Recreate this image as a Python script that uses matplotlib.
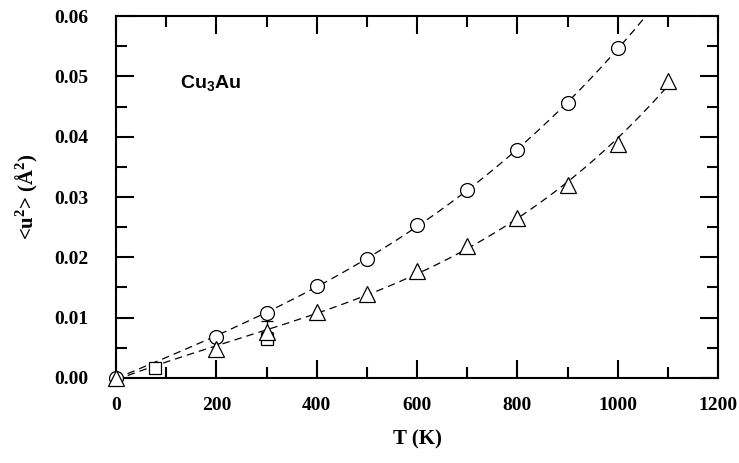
import numpy as np
import matplotlib
matplotlib.use('Agg')
import matplotlib.pyplot as plt
from matplotlib.ticker import MultipleLocator

# circles
t_circ = [0, 200, 300, 400, 500, 600, 700, 800, 900, 1000]
u_circ = [0.0, 0.0068, 0.0108, 0.0153, 0.0198, 0.0253, 0.0311, 0.0378, 0.0455, 0.0547]

# triangles
t_tri = [0, 200, 300, 400, 500, 600, 700, 800, 900, 1000, 1100]
u_tri = [0.0, 0.0048, 0.0076, 0.0109, 0.0139, 0.0177, 0.0219, 0.0265, 0.0320, 0.0388, 0.0492]

# squares (with upper error)
t_sq = [77, 300]
u_sq = [0.0016, 0.0065]
err_sq = [0.0008, 0.0]

# error bar on the 300 K triangle
t_tri_err = [300]
u_tri_err = [0.0076]
err_tri = [0.0019]

serif = 'Liberation Serif'
plt.rcParams['mathtext.fontset'] = 'custom'
plt.rcParams['mathtext.rm'] = serif
plt.rcParams['mathtext.bf'] = serif + ':bold'
plt.rcParams['mathtext.sf'] = 'Liberation Sans:bold'

fig = plt.figure(figsize=(7.39, 4.63), dpi=100)
ax = fig.add_axes([0.157, 0.1836, 0.8146, 0.7818])

# dashed fit curves
p_c = np.polyfit(t_circ, u_circ, 3)
tc = np.linspace(0, 1060, 200)
ax.plot(tc, np.polyval(p_c, tc), '--', color='black', lw=0.9, dashes=(6, 4), zorder=1)
p_t = np.polyfit(t_tri, u_tri, 3)
tt = np.linspace(0, 1100, 200)
ax.plot(tt, np.polyval(p_t, tt), '--', color='black', lw=0.9, dashes=(6, 4), zorder=1)

ax.errorbar(t_sq, u_sq, yerr=[[0, 0], err_sq], fmt='none', ecolor='black', elinewidth=0.9,
            capsize=4, capthick=0.9, zorder=2)
ax.errorbar(t_tri_err, u_tri_err, yerr=[[0], err_tri], fmt='none', ecolor='black', elinewidth=0.9,
            capsize=4, capthick=0.9, zorder=2)

ax.plot(t_circ, u_circ, 'o', ms=10, mfc='white', mec='black', mew=0.9, zorder=3, clip_on=False)
ax.plot(t_sq, u_sq, 's', ms=8, mfc='white', mec='black', mew=0.9, zorder=3, clip_on=False)
ax.plot(t_tri, u_tri, '^', ms=11, mfc='white', mec='black', mew=0.9, zorder=4, clip_on=False)

ax.set_xlim(0, 1200)
ax.set_ylim(0, 0.06)
ax.xaxis.set_major_locator(MultipleLocator(200))
ax.xaxis.set_minor_locator(MultipleLocator(100))
ax.yaxis.set_major_locator(MultipleLocator(0.01))
ax.yaxis.set_minor_locator(MultipleLocator(0.005))
ax.yaxis.set_major_formatter(plt.FuncFormatter(lambda v, p: '%.2f' % v))

ax.tick_params(which='both', direction='in', top=True, right=True, width=1.5)
ax.tick_params(which='major', length=13)
ax.tick_params(which='minor', length=8)
ax.tick_params(axis='x', pad=14)
ax.tick_params(axis='y', pad=20)
for sp in ax.spines.values():
    sp.set_linewidth(1.5)

for lab in ax.get_xticklabels() + ax.get_yticklabels():
    lab.set_fontfamily(serif)
    lab.set_fontweight('bold')
    lab.set_fontsize(14)

ax.set_xlabel('T (K)', fontfamily=serif, fontweight='bold', fontsize=15, labelpad=11)
ax.set_ylabel(r'<u$^\mathbf{2}$> ($\mathbf{\AA}^\mathbf{2}$)', fontfamily=serif, fontweight='bold',
              fontsize=15, labelpad=10)

ax.text(128, 0.0487, r'Cu$_\mathsf{3}$Au', fontfamily='Liberation Sans', fontweight='bold',
        fontsize=14, va='center', ha='left')

fig.savefig('out.png', dpi=100)
